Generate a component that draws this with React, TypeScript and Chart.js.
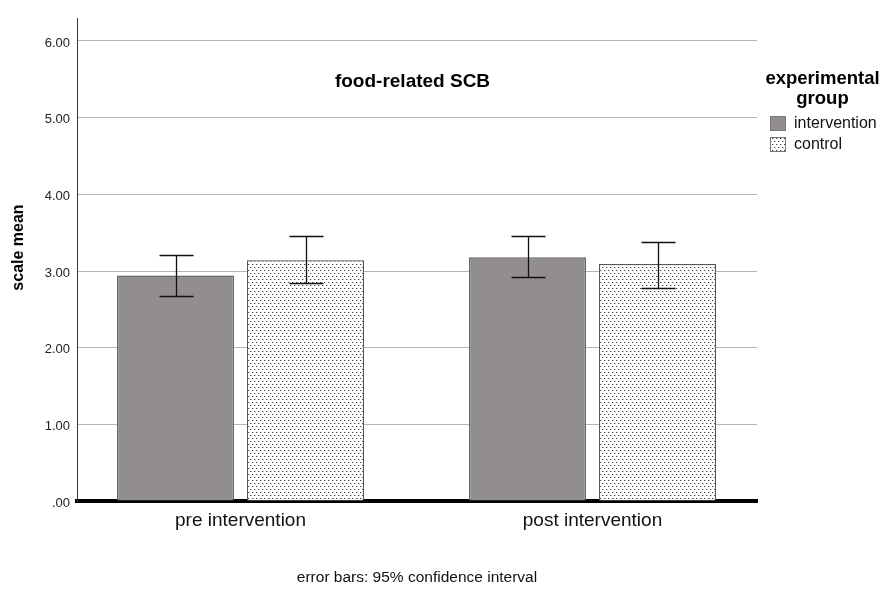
import React, { useEffect, useRef } from 'react';
import { Chart, registerables } from 'chart.js';

Chart.register(...registerables);

// ---- data ----
const categories = ['pre intervention', 'post intervention'];
const seriesNames = ['intervention', 'control'];
const interventionMean = [2.94, 3.18];
const interventionLow = [2.68, 2.92];
const interventionHigh = [3.21, 3.45];
const controlMean = [3.14, 3.09];
const controlLow = [2.85, 2.78];
const controlHigh = [3.45, 3.38];
const yTickValues = [0, 1, 2, 3, 4, 5, 6];
const yTickLabels = ['.00', '1.00', '2.00', '3.00', '4.00', '5.00', '6.00'];
const chartTitle = 'food-related SCB';
const yAxisTitle = 'scale mean';
const xAxisTitle = 'error bars: 95% confidence interval';
const legendTitle = ['experimental', 'group'];

// ---- layout constants ----
const X_MIN = -0.4645;
const X_MAX = 1.4673;
const FONT = '"Liberation Sans", Arial, sans-serif';
const INTERVENTION_FILL = '#928e8d';

function makeDots(ctx: CanvasRenderingContext2D) {
  const c = document.createElement('canvas');
  c.width = 4;
  c.height = 6;
  const g = c.getContext('2d')!;
  g.fillStyle = '#ffffff';
  g.fillRect(0, 0, 4, 6);
  g.fillStyle = '#444444';
  g.fillRect(0, 0, 1, 1);
  g.fillRect(2, 3, 1, 1);
  g.fillStyle = '#c8c8c8';
  g.fillRect(1, 0, 1, 1);
  g.fillRect(3, 3, 1, 1);
  return ctx.createPattern(c, 'repeat')!;
}

export default function App() {
  const ref = useRef<HTMLCanvasElement | null>(null);

  useEffect(() => {
    const canvas = ref.current!;
    const ctx0 = canvas.getContext('2d')!;
    const dots = makeDots(ctx0);
    Chart.defaults.font.family = FONT;

    const lows = [interventionLow, controlLow];
    const highs = [interventionHigh, controlHigh];

    const decor = {
      id: 'decor',
      afterDatasetsDraw(chart: any) {
        const ctx = chart.ctx as CanvasRenderingContext2D;
        const ys = chart.scales.y;
        ctx.save();
        ctx.strokeStyle = '#111';
        ctx.lineWidth = 1.3;
        [0, 1].forEach((d) => {
          const meta = chart.getDatasetMeta(d);
          meta.data.forEach((bar: any, i: number) => {
            const x = Math.round(bar.x) + 0.5;
            const yl = Math.round(ys.getPixelForValue(lows[d][i])) + 0.5;
            const yh = Math.round(ys.getPixelForValue(highs[d][i])) + 0.5;
            ctx.beginPath();
            ctx.moveTo(x, yh);
            ctx.lineTo(x, yl);
            ctx.moveTo(x - 17, yh);
            ctx.lineTo(x + 17, yh);
            ctx.moveTo(x - 17, yl);
            ctx.lineTo(x + 17, yl);
            ctx.stroke();
          });
        });
        ctx.restore();
      },
      afterDraw(chart: any) {
        const ctx = chart.ctx as CanvasRenderingContext2D;
        ctx.save();
        ctx.fillStyle = '#000';
        // chart title
        ctx.font = `bold 19px ${FONT}`;
        ctx.textAlign = 'center';
        ctx.textBaseline = 'alphabetic';
        ctx.fillText(chartTitle, 412.5, 87);
        // y axis title
        ctx.save();
        ctx.translate(19, 247.5);
        ctx.rotate(-Math.PI / 2);
        ctx.font = `bold 16px ${FONT}`;
        ctx.textBaseline = 'middle';
        ctx.fillText(yAxisTitle, 0, 0);
        ctx.restore();
        // legend
        ctx.font = `bold 18.5px ${FONT}`;
        ctx.textAlign = 'center';
        ctx.textBaseline = 'alphabetic';
        ctx.fillText(legendTitle[0], 822.5, 84);
        ctx.fillText(legendTitle[1], 822.5, 104);
        const fills: any[] = [INTERVENTION_FILL, dots];
        ctx.font = `16px ${FONT}`;
        ctx.textAlign = 'left';
        ctx.textBaseline = 'middle';
        seriesNames.forEach((name, i) => {
          const by = 116 + i * 21;
          ctx.fillStyle = fills[i];
          ctx.fillRect(770, by, 16, 15);
          ctx.strokeStyle = '#777';
          ctx.lineWidth = 1;
          ctx.strokeRect(770.5, by + 0.5, 15, 14);
          ctx.fillStyle = '#111';
          ctx.fillText(name, 794, by + 8);
        });
        ctx.restore();
      },
    };

    const chart = new Chart(canvas, {
      type: 'bar',
      data: {
        datasets: [
          {
            label: seriesNames[0],
            data: categories.map((_, i) => ({ x: i, y: interventionMean[i] })),
            backgroundColor: INTERVENTION_FILL,
            borderColor: '#666666',
            borderWidth: 1.5,
            categoryPercentage: 0.7386,
            barPercentage: 0.9,
          },
          {
            label: seriesNames[1],
            data: categories.map((_, i) => ({ x: i, y: controlMean[i] })),
            backgroundColor: dots,
            borderColor: '#555555',
            borderWidth: 1.2,
            categoryPercentage: 0.7386,
            barPercentage: 0.9,
          },
        ] as any,
      },
      options: {
        responsive: false,
        animation: false,
        devicePixelRatio: 1,
        layout: { padding: { left: 0, right: 126, top: 18, bottom: 0 } },
        plugins: {
          legend: { display: false },
          tooltip: { enabled: false },
          title: { display: false },
        },
        scales: {
          x: {
            type: 'linear',
            min: X_MIN,
            max: X_MAX,
            offset: false,
            grid: { display: false, drawTicks: false, offset: false },
            border: { display: true, color: '#000', width: 4 },
            ticks: {
              padding: 8,
              font: { size: 19 },
              color: '#111',
              callback: (v: any) => categories[v] ?? '',
            },
            afterBuildTicks: (s: any) => {
              s.ticks = categories.map((_, i) => ({ value: i }));
            },
            afterFit: (s: any) => {
              s.height = 89;
            },
            title: {
              display: true,
              text: xAxisTitle,
              font: { size: 15.5 },
              color: '#111',
              padding: { top: 0, bottom: 3 },
            },
          },
          y: {
            min: 0,
            max: 6.3,
            afterBuildTicks: (s: any) => {
              s.ticks = yTickValues.map((v) => ({ value: v }));
            },
            ticks: {
              padding: 7,
              font: { size: 13 },
              color: '#222',
              labelOffset: 2,
              callback: (v: any) => yTickLabels[yTickValues.indexOf(Number(v))] ?? '',
            },
            grid: { color: '#b5b5b5', drawTicks: false, lineWidth: 1 },
            border: { color: '#333', width: 1 },
            afterFit: (s: any) => {
              s.width = 77;
            },
          },
        },
      } as any,
      plugins: [decor],
    });
    return () => chart.destroy();
  }, []);

  return (
    <div style={{ position: 'absolute', left: 0, top: 0, width: 883, height: 590, background: '#fff' }}>
      <canvas ref={ref} width={883} height={590} style={{ display: 'block' }} />
    </div>
  );
}
